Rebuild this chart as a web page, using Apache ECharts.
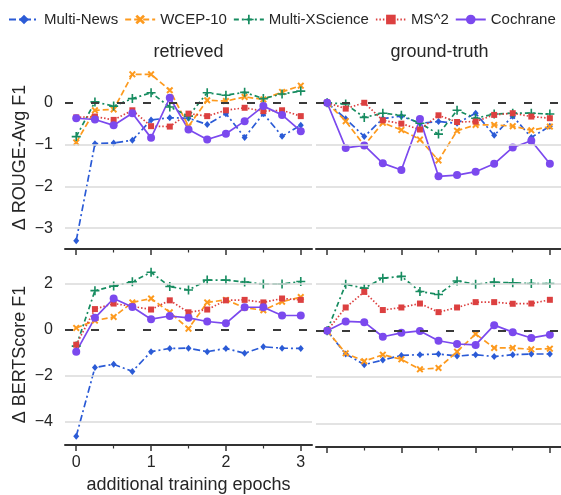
<!DOCTYPE html>
<html>
<head>
<meta charset="utf-8">
<script src="https://cdn.jsdelivr.net/npm/echarts@6/dist/echarts.min.js"></script>
<style>html,body{margin:0;padding:0;background:#fff}#c{width:561px;height:495px}</style>
</head>
<body>
<div id="c"></div>
<script>
// ---- data ----
var epochs = [0, 0.25, 0.5, 0.75, 1, 1.25, 1.5, 1.75, 2, 2.25, 2.5, 2.75, 3];
var seriesNames = ['Multi-News', 'WCEP-10', 'Multi-XScience', 'MS^2', 'Cochrane'];
var panelTitles = ['retrieved', 'ground-truth'];
var rowLabels = ['\u0394 ROUGE-Avg F1', '\u0394 BERTScore F1'];
var xTickLabels = [0, 1, 2, 3];
var xMinorTicks = [0.5, 1.5, 2.5];
var rougeTicks = [-3, -2, -1, 0];
var bertTicks = [-4, -2, 0, 2];

// ROUGE, retrieved
var mnRougeRet = [-3.30, -0.98, -0.96, -0.90, -0.41, -0.36, -0.37, -0.52, -0.26, -0.83, -0.26, -0.80, -0.54];
var wcRougeRet = [-0.95, -0.18, -0.16, 0.68, 0.68, 0.30, -0.56, 0.06, 0.04, 0.14, 0.08, 0.26, 0.41];
var mxRougeRet = [-0.81, 0.02, -0.08, 0.10, 0.24, -0.10, -0.32, 0.24, 0.18, 0.25, 0.10, 0.21, 0.28];
var msRougeRet = [-0.35, -0.33, -0.41, -0.18, -0.56, -0.57, -0.26, -0.32, -0.18, -0.12, -0.20, -0.18, -0.32];
var coRougeRet = [-0.37, -0.40, -0.54, -0.25, -0.84, 0.12, -0.64, -0.88, -0.74, -0.44, -0.08, -0.29, -0.68];
// ROUGE, ground-truth
var mnRougeGt = [0, -0.38, -0.81, -0.38, -0.32, -0.49, -0.45, -0.49, -0.25, -0.78, -0.32, -0.83, -0.56];
var wcRougeGt = [0, -0.44, -1.02, -0.48, -0.65, -0.88, -1.38, -0.67, -0.53, -0.53, -0.56, -0.66, -0.57];
var mxRougeGt = [0, -0.03, -0.35, -0.25, -0.30, -0.49, -0.75, -0.18, -0.37, -0.27, -0.25, -0.25, -0.27];
var msRougeGt = [0, -0.14, 0.0, -0.42, -0.50, -0.64, -0.30, -0.46, -0.45, -0.29, -0.25, -0.33, -0.37];
var coRougeGt = [0, -1.08, -1.02, -1.45, -1.61, -0.39, -1.76, -1.73, -1.65, -1.46, -1.07, -0.91, -1.46];
// BERTScore, retrieved
var mnBertRet = [-4.62, -1.63, -1.49, -1.80, -0.94, -0.80, -0.79, -0.94, -0.80, -1.01, -0.73, -0.79, -0.80];
var wcBertRet = [0.09, 0.41, 0.57, 1.20, 1.37, 0.77, 0.06, 1.20, 1.31, 0.97, 0.86, 1.23, 1.43];
var mxBertRet = [-0.70, 1.71, 1.91, 2.10, 2.51, 1.89, 1.74, 2.17, 2.17, 2.09, 2.00, 2.00, 2.11];
var msBertRet = [-0.64, 0.91, 1.15, 1.03, 0.89, 1.29, 0.77, 0.89, 1.29, 1.31, 1.20, 1.37, 1.31];
var coBertRet = [-0.94, 0.53, 1.37, 1.00, 0.47, 0.61, 0.53, 0.37, 0.29, 0.99, 0.99, 0.63, 0.63];
// BERTScore, ground-truth
var mnBertGt = [0, -1.00, -1.46, -1.26, -1.06, -1.03, -1.00, -1.09, -1.03, -1.11, -1.03, -1.00, -1.00];
var wcBertGt = [0, -0.97, -1.31, -1.03, -1.23, -1.66, -1.60, -0.90, -0.14, -0.74, -0.74, -0.80, -0.77];
var mxBertGt = [0, 2.00, 1.83, 2.26, 2.34, 1.69, 1.56, 2.14, 2.00, 2.09, 2.06, 2.03, 2.03];
var msBertGt = [0, 1.00, 1.67, 0.89, 1.00, 1.17, 0.80, 1.00, 1.23, 1.23, 1.16, 1.17, 1.33];
var coBertGt = [0, 0.40, 0.37, -0.26, -0.09, -0.01, -0.43, -0.57, -0.61, 0.24, -0.06, -0.31, -0.17];

var panelData = [
  [mnRougeRet, wcRougeRet, mxRougeRet, msRougeRet, coRougeRet],
  [mnRougeGt, wcRougeGt, mxRougeGt, msRougeGt, coRougeGt],
  [mnBertRet, wcBertRet, mxBertRet, msBertRet, coBertRet],
  [mnBertGt, wcBertGt, mxBertGt, msBertGt, coBertGt]
];

// ---- styles ----
var FONT = '"Liberation Sans", Arial, sans-serif';
var TXT = '#262626';
var colors = ['#2b5bd6', '#fd9a1e', '#178c60', '#dc4040', '#7b49ee'];
var dashes = [[7, 3, 2, 3], [6, 3], [5, 3, 2, 3], [1.5, 2], 'solid'];
var XPATH = 'path://M0,2 L2,0 L5,3 L8,0 L10,2 L7,5 L10,8 L8,10 L5,7 L2,10 L0,8 L3,5 Z';
var PLUS = 'path://M4.1,0 H5.9 V4.1 H10 V5.9 H5.9 V10 H4.1 V5.9 H0 V4.1 H4.1 Z';
var symbols = ['diamond', XPATH, PLUS, 'rect', 'circle'];
var symSizes = [[6, 7], 7, 9, 6, 8];

var grids = [
  {left: 65, top: 66, width: 247, height: 183},
  {left: 316, top: 66, width: 247, height: 183},
  {left: 65, top: 264, width: 247, height: 183},
  {left: 316, top: 264, width: 247, height: 183}
];

function minusFmt(v) { return v < 0 ? '\u2212' + Math.abs(v) : String(v); }

var xAxes = [], yAxes = [], series = [];
for (var g = 0; g < 4; g++) {
  var isBottom = g >= 2, isLeft = (g % 2 === 0);
  xAxes.push({
    type: 'value', gridIndex: g, min: -0.15, max: 3.15, position: 'bottom',
    name: (g === 2) ? 'additional training epochs' : '',
    nameLocation: 'middle', nameGap: 31,
    nameTextStyle: {fontSize: 18, fontFamily: FONT, color: TXT},
    axisLine: {show: true, onZero: false, lineStyle: {color: '#333', width: 2}},
    axisTick: {show: true, customValues: xTickLabels, length: 6, lineStyle: {color: '#333', width: 1.5}},
    axisLabel: {show: g === 2, customValues: xTickLabels, fontSize: 16, fontFamily: FONT, color: TXT, margin: 10},
    splitLine: {show: false}
  });
  xAxes.push({
    type: 'value', gridIndex: g, min: -0.15, max: 3.15, position: 'bottom',
    axisLine: {show: false, onZero: false},
    axisTick: {show: true, customValues: xMinorTicks, length: 3.5, lineStyle: {color: '#333', width: 1.2}},
    axisLabel: {show: false},
    splitLine: {show: false}
  });
  var ticks = isBottom ? bertTicks : rougeTicks;
  yAxes.push({
    type: 'value', gridIndex: g,
    min: isBottom ? -5 : -3.5, max: isBottom ? 2.87 : 0.88,
    name: isLeft ? rowLabels[isBottom ? 1 : 0] : '',
    nameLocation: 'middle', nameGap: 36, nameRotate: 90,
    nameTextStyle: {fontSize: 18, fontFamily: FONT, color: TXT},
    axisLine: {show: false, onZero: false},
    axisTick: {show: false},
    axisLabel: {show: isLeft, customValues: ticks, formatter: minusFmt, fontSize: 16, fontFamily: FONT, color: TXT, margin: 12},
    splitLine: {show: false}
  });
  // grid lines + zero reference line
  var ml = [];
  ticks.forEach(function (t) {
    if (t !== 0) ml.push({yAxis: t, lineStyle: {color: '#dadada', width: 1.5, type: 'solid'}});
  });
  ml.push({yAxis: 0, lineStyle: {color: '#3a3a3a', width: 2, type: [8, 18]}});
  series.push({
    name: 'grid' + g, type: 'line', xAxisIndex: g * 2, yAxisIndex: g, data: [], z: 1,
    markLine: {silent: true, symbol: ['none', 'none'], label: {show: false}, animation: false, data: ml}
  });
  for (var s = 0; s < 5; s++) {
    var vals = panelData[g][s];
    series.push({
      name: seriesNames[s], type: 'line', xAxisIndex: g * 2, yAxisIndex: g, z: 3,
      data: epochs.map(function (x, i) { return [x, vals[i]]; }),
      symbol: symbols[s], symbolSize: symSizes[s], showSymbol: true,
      lineStyle: {color: colors[s], width: 1.7, type: dashes[s]},
      itemStyle: {color: colors[s]},
      emphasis: {disabled: true}
    });
  }
}

var chart = echarts.init(document.getElementById('c'), null, {renderer: 'canvas'});
chart.setOption({
  animation: false,
  backgroundColor: '#fff',
  legend: {
    data: seriesNames, left: 3, top: 7, itemWidth: 30, itemHeight: 12, itemGap: 6,
    textStyle: {fontSize: 15, fontFamily: FONT, color: TXT}
  },
  grid: grids,
  xAxis: xAxes,
  yAxis: yAxes,
  series: series,
  graphic: [
    {type: 'text', x: 188.5, y: 52, style: {text: panelTitles[0], align: 'center', verticalAlign: 'middle', fontSize: 18, fontFamily: FONT, fill: TXT}},
    {type: 'text', x: 439.5, y: 52, style: {text: panelTitles[1], align: 'center', verticalAlign: 'middle', fontSize: 18, fontFamily: FONT, fill: TXT}}
  ]
});
</script>
</body>
</html>
